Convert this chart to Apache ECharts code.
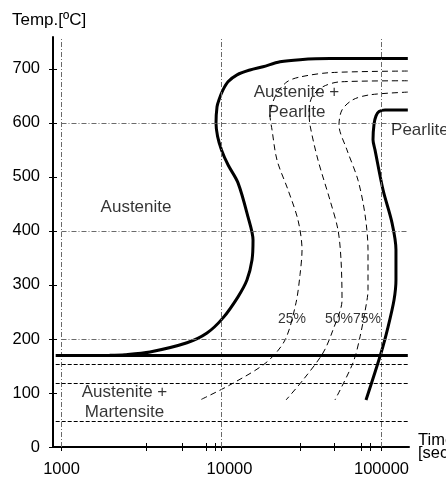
<!DOCTYPE html>
<html>
<head>
<meta charset="utf-8">
<script src="https://cdn.jsdelivr.net/npm/echarts@6/dist/echarts.min.js"></script>
<style>html,body{margin:0;padding:0;background:#fff;}#c{width:446px;height:478px;}</style>
</head>
<body>
<div id="c"></div>
<script>
// ---- data (time in seconds, temperature in °C) ----
const xTickLabels = [1000, 10000, 100000];
const xMinorTicks = [3400, 5700, 8000, 9100, 31000, 51000, 75000, 85000];
const yTickLabels = [0, 100, 200, 300, 400, 500, 600, 700];
const gridTimes = [1000, 10000, 100000];
const gridTemps = [600, 400, 200];
const msTemp = 170;
const martensiteTemps = [154, 118, 48];
const lineStartTime = 920;
const lineEndTime = 146000;

const startCurve = [
  [146000, 719], [47640, 719], [30950, 717], [23210, 713], [18160, 704], [15070, 698],
  [12500, 689], [10980, 676], [10220, 661], [9647, 643], [9375, 630], [9240, 600],
  [9450, 575], [10000, 550], [11000, 522], [12680, 489], [14640, 426], [15740, 383],
  [15510, 346], [14420, 309], [12680, 278], [10220, 239], [8117, 211], [6085, 193],
  [3573, 176], [2495, 171], [2000, 170]
];
const finishCurve = [
  [146000, 624], [105200, 624], [96500, 621], [92400, 613], [89800, 598], [88480, 569],
  [91050, 550], [102200, 476], [116300, 415], [123100, 365], [123100, 309], [119700, 272],
  [109800, 222], [99300, 174], [79990, 87]
];
const curve25 = [
  [146000, 696], [47640, 693], [30950, 685], [25650, 676], [21910, 652], [20090, 615],
  [20690, 587], [22230, 531], [26040, 476], [30070, 420], [31860, 365], [30950, 319],
  [29220, 267], [24940, 198], [18970, 156], [11300, 115], [7340, 87]
];
const curve50 = [
  [146000, 678], [55040, 676], [43070, 667], [36780, 648], [35230, 620], [35730, 596],
  [40100, 531], [47640, 457], [53460, 402], [55840, 346], [56640, 272], [49770, 217],
  [43070, 174], [32300, 124], [25300, 87]
];
const curve75 = [
  [146000, 657], [84710, 652], [66350, 643], [56640, 624], [54230, 596], [60820, 550],
  [71300, 494], [78890, 430], [82330, 365], [82330, 291], [81150, 272], [73400, 204],
  [66350, 156], [51170, 87]
];
const annotations = [
  { text: 'Austenite', time: 2923, temp: 444 },
  { text: 'Austenite +\nPearlite', time: 29430, temp: 639 },
  { text: 'Pearlite', time: 114700, temp: 587, left: true },
  { text: 'Austenite +\nMartensite', time: 2477, temp: 82 },
  { text: '25%', time: 27580, temp: 237, small: true },
  { text: '50%', time: 54230, temp: 237, small: true },
  { text: '75%', time: 81150, temp: 237, small: true }
];

// ---- chart ----
const FONT = 'Liberation Sans, Arial, Helvetica, sans-serif';
const chart = echarts.init(document.getElementById('c'), null, { renderer: 'canvas' });

const gridLineStyle = { color: '#6a6a6a', width: 1, type: [5, 2, 1, 2] };
const thick = { color: '#000', width: 3, type: 'solid' };
const dashed = { color: '#000', width: 1, type: [6, 4] };

const markLines = [];
gridTimes.forEach(t => markLines.push({ xAxis: t, lineStyle: gridLineStyle }));
gridTemps.forEach(v => markLines.push([{ coord: [gridTimes[0], v], lineStyle: gridLineStyle }, { coord: [lineEndTime, v] }]));
martensiteTemps.forEach(v => markLines.push([{ coord: [lineStartTime, v], lineStyle: { color: '#000', width: 1, type: [4, 2] } }, { coord: [lineEndTime, v] }]));
markLines.push([{ coord: [lineStartTime, msTemp], lineStyle: thick }, { coord: [lineEndTime, msTemp] }]);

function curve(data, style) {
  return { type: 'line', data: data, showSymbol: false, symbol: 'none', smooth: 0.3,
    lineStyle: style, silent: true, animation: false, z: 3 };
}

chart.setOption({
  animation: false,
  title: { text: 'Temp.[ºC]', left: 12, top: 12, padding: 0,
    textStyle: { fontSize: 17, fontWeight: 'normal', color: '#000', fontFamily: FONT } },
  grid: { left: 53, right: 37, top: 37, bottom: 31, containLabel: false, outerBoundsMode: 'none' },
  xAxis: [{
    type: 'log', logBase: 10, min: 885, max: 148500,
    axisLine: { lineStyle: { color: '#000', width: 2 } },
    axisTick: { show: true, length: 4, lineStyle: { color: '#000', width: 1 },
      customValues: xTickLabels.concat(xMinorTicks) },
    axisLabel: { customValues: xTickLabels, color: '#000', fontSize: 16.5, fontFamily: FONT, margin: 14,
      formatter: v => (Math.round(v) === 10000 ? '{o|10000}' : String(Math.round(v))),
      rich: { o: { padding: [0, 0, 0, 16], fontSize: 16.5, fontFamily: FONT, color: '#000' } } },
    splitLine: { show: false }, minorTick: { show: false },
    name: 'Time\n[sec]', nameLocation: 'end', nameGap: 9,
    nameTextStyle: { color: '#000', fontSize: 16.5, fontFamily: FONT, align: 'left', verticalAlign: 'middle', lineHeight: 13, padding: [0, 0, 16, 0] }
  }, {
    type: 'log', logBase: 10, min: 885, max: 148500, position: 'bottom', offset: 0,
    axisLine: { show: false },
    axisTick: { show: true, inside: true, length: 4, lineStyle: { color: '#000', width: 1 },
      customValues: xTickLabels.concat(xMinorTicks) },
    axisLabel: { show: false }, splitLine: { show: false }
  }],
  yAxis: [{
    type: 'value', min: 0, max: 759,
    axisLine: { show: true, lineStyle: { color: '#000', width: 2 } },
    axisTick: { show: true, length: 4, lineStyle: { color: '#000', width: 1 }, customValues: yTickLabels },
    axisLabel: { customValues: yTickLabels, color: '#000', fontSize: 16.5, fontFamily: FONT, margin: 13 },
    splitLine: { show: false }
  }, {
    type: 'value', min: 0, max: 759, position: 'left', offset: 0,
    axisLine: { show: false },
    axisTick: { show: true, inside: true, length: 4, lineStyle: { color: '#000', width: 1 }, customValues: yTickLabels },
    axisLabel: { show: false }, splitLine: { show: false }
  }],
  series: [
    { type: 'line', data: [], silent: true, z: 1,
      markLine: { silent: true, symbol: ['none', 'none'], label: { show: false }, animation: false, data: markLines } },
    curve(curve25, dashed),
    curve(curve50, dashed),
    curve(curve75, dashed),
    curve(startCurve, thick),
    curve(finishCurve, thick),
    { type: 'scatter', symbolSize: 0, silent: true, z: 5,
      data: annotations.map(a => ({
        name: a.text, value: [a.time, a.temp],
        label: { show: true, position: 'inside', formatter: '{b}',
          align: a.left ? 'left' : 'center', verticalAlign: 'middle',
          fontSize: a.small ? 14 : 17, lineHeight: 20, color: '#000', fontFamily: FONT }
      })) }
  ]
});
</script>
</body>
</html>
